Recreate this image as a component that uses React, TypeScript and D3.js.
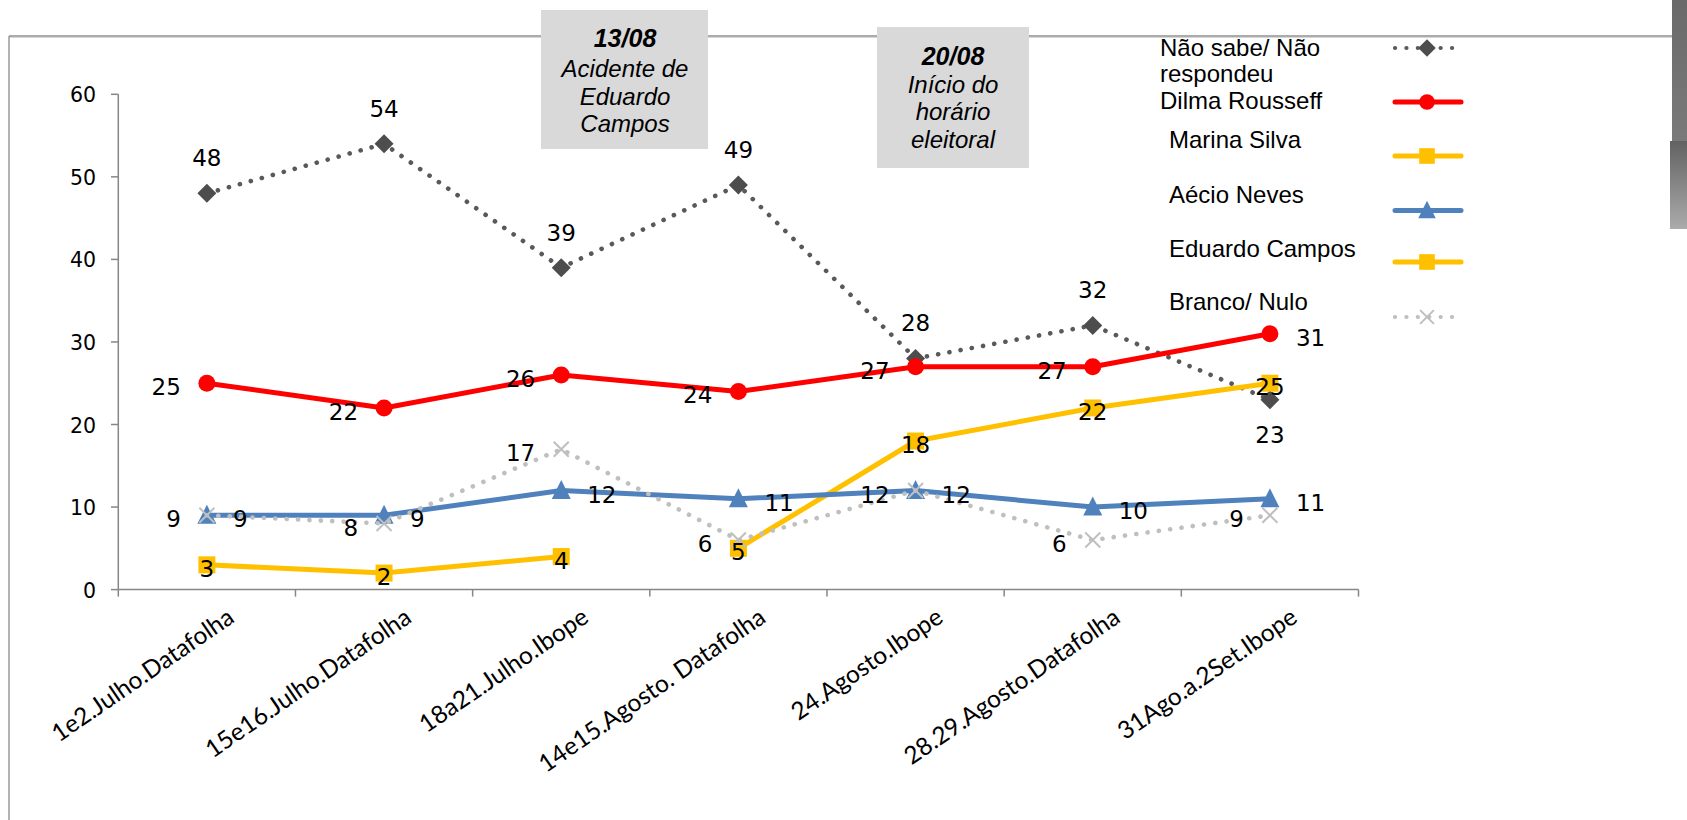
import React from "react";
import * as d3 from "d3";

const categories = [
  "1e2.Julho.Datafolha",
  "15e16.Julho.Datafolha",
  "18a21.Julho.Ibope",
  "14e15.Agosto. Datafolha",
  "24.Agosto.Ibope",
  "28.29.Agosto.Datafolha",
  "31Ago.a.2Set.Ibope",
];
const naoSabe: (number | null)[] = [48, 54, 39, 49, 28, 32, 23];
const dilma: (number | null)[] = [25, 22, 26, 24, 27, 27, 31];
const marina: (number | null)[] = [null, null, null, 5, 18, 22, 25];
const aecio: (number | null)[] = [9, 9, 12, 11, 12, 10, 11];
const eduardo: (number | null)[] = [3, 2, 4, null, null, null, null];
const branco: (number | null)[] = [9, 8, 17, 6, 12, 6, 9];
const yTicks = [0, 10, 20, 30, 40, 50, 60];

const naoSabeLabelPos = ["above", "above", "above", "above", "above", "above", "below"];
const dilmaLabelPos = ["left", "left", "left", "left", "left", "left", "right"];

type Series = {
  name: string[];
  values: (number | null)[];
  color: string;
  markerColor: string;
  dotted: boolean;
  marker: "diamond" | "circle" | "square" | "triangle" | "x";
  labelPos: string[] | string;
};

const series: Series[] = [
  { name: ["Não sabe/ Não", "respondeu"], values: naoSabe, color: "#595959", markerColor: "#4d4d4d", dotted: true, marker: "diamond", labelPos: naoSabeLabelPos },
  { name: ["Dilma Rousseff"], values: dilma, color: "#ff0000", markerColor: "#ff0000", dotted: false, marker: "circle", labelPos: dilmaLabelPos },
  { name: ["Marina Silva"], values: marina, color: "#ffc000", markerColor: "#ffc000", dotted: false, marker: "square", labelPos: "center" },
  { name: ["Aécio Neves"], values: aecio, color: "#4f81bd", markerColor: "#4f81bd", dotted: false, marker: "triangle", labelPos: "right" },
  { name: ["Eduardo Campos"], values: eduardo, color: "#ffc000", markerColor: "#ffc000", dotted: false, marker: "square", labelPos: "center" },
  { name: ["Branco/ Nulo"], values: branco, color: "#bfbfbf", markerColor: "#bfbfbf", dotted: true, marker: "x", labelPos: "left" },
];

const W = 1687;
const H = 820;
const x = d3.scaleBand<string>().domain(categories).range([118.3, 1358.5]);
const y = d3.scaleLinear().domain([0, 60]).range([589.6, 94.3]);
const cx = (i: number) => (x(categories[i]) as number) + x.bandwidth() / 2;

const AXIS = "#868686";
const NUM_FONT = "'DejaVu Sans', Verdana, sans-serif";
const TXT_FONT = "'Liberation Sans', Arial, sans-serif";

function Marker({ kind, color, px, py, s = 1 }: { kind: string; color: string; px: number; py: number; s?: number }) {
  if (kind === "diamond") {
    const r = 9.5 * s;
    return <polygon points={`${px},${py - r} ${px + r},${py} ${px},${py + r} ${px - r},${py}`} fill={color} />;
  }
  if (kind === "circle") return <circle cx={px} cy={py} r={8.5 * s} fill={color} />;
  if (kind === "square") {
    const r = 8.5 * s;
    return <rect x={px - r} y={py - r} width={2 * r} height={2 * r} fill={color} />;
  }
  if (kind === "triangle") {
    const h = 9.5 * s;
    return <polygon points={`${px},${py - h - 1} ${px + h},${py + h - 1} ${px - h},${py + h - 1}`} fill={color} />;
  }
  const r = 7.5 * s;
  return (
    <g stroke={color} strokeWidth={2}>
      <line x1={px - r} y1={py - r} x2={px + r} y2={py + r} />
      <line x1={px - r} y1={py + r} x2={px + r} y2={py - r} />
    </g>
  );
}

export default function App() {
  const lineGen = d3
    .line<number | null>()
    .defined((d) => d !== null)
    .x((_, i) => cx(i))
    .y((d) => y(d as number));

  const legendY = [48, 102, 156, 210.5, 262, 317];
  const legendTextY = [[56, 82], [109], [148], [203], [257], [310]];
  const legendTextX = [1160, 1160, 1169, 1169, 1169, 1169];

  return (
    <svg width={W} height={H} style={{ position: "absolute", left: 0, top: 0, background: "#fff" }}>
      <defs>
        <linearGradient id="bar1" x1="0" y1="0" x2="0" y2="1">
          <stop offset="0" stopColor="#6a6a6a" />
          <stop offset="1" stopColor="#7a7a7a" />
        </linearGradient>
        <linearGradient id="bar2" x1="0" y1="0" x2="0" y2="1">
          <stop offset="0" stopColor="#626262" />
          <stop offset="1" stopColor="#ababab" />
        </linearGradient>
      </defs>
      <rect x={0} y={0} width={W} height={H} fill="#fff" />
      {/* outer frame */}
      <line x1={9} y1={36} x2={1672} y2={36} stroke="#8f8f8f" strokeWidth={1.5} />
      <line x1={9} y1={37.5} x2={1672} y2={37.5} stroke="#d6d6d6" strokeWidth={1} />
      <line x1={9} y1={36} x2={9} y2={H} stroke="#9a9a9a" strokeWidth={1.5} />
      <rect x={1672} y={0} width={15} height={141} fill="url(#bar1)" />
      <rect x={1670} y={141} width={17} height={88} fill="url(#bar2)" />

      {/* annotation boxes */}
      <rect x={541} y={10} width={167} height={139} fill="#d9d9d9" />
      <g fontFamily={TXT_FONT} textAnchor="middle" fill="#000" fontStyle="italic">
        <text x={625} y={46.5} fontSize={25} fontWeight="bold">13/08</text>
        <text x={625} y={77} fontSize={24}>Acidente de</text>
        <text x={625} y={105} fontSize={24}>Eduardo</text>
        <text x={625} y={132} fontSize={24}>Campos</text>
      </g>
      <rect x={877} y={27} width={152} height={141} fill="#d9d9d9" />
      <g fontFamily={TXT_FONT} textAnchor="middle" fill="#000" fontStyle="italic">
        <text x={953} y={65} fontSize={25} fontWeight="bold">20/08</text>
        <text x={953} y={92.5} fontSize={24}>Início do</text>
        <text x={953} y={120} fontSize={24}>horário</text>
        <text x={953} y={148} fontSize={24}>eleitoral</text>
      </g>

      {/* y axis */}
      <line x1={x.range()[0]} y1={y(0)} x2={x.range()[0]} y2={y(60)} stroke={AXIS} strokeWidth={1.5} />
      {yTicks.map((t) => (
        <g key={t}>
          <line x1={111} x2={x.range()[0]} y1={y(t)} y2={y(t)} stroke={AXIS} strokeWidth={1.5} />
          <text x={96} y={y(t) + 8} textAnchor="end" fontFamily={NUM_FONT} fontSize={20.5} fill="#000">{t}</text>
        </g>
      ))}
      {/* x axis */}
      <line x1={x.range()[0]} y1={y(0)} x2={x.range()[1]} y2={y(0)} stroke={AXIS} strokeWidth={1.5} />
      {[...categories.map((c) => x(c) as number), x.range()[1]].map((tx, i) => (
        <line key={i} x1={tx} x2={tx} y1={y(0)} y2={y(0) + 7} stroke={AXIS} strokeWidth={1.5} />
      ))}
      {categories.map((c, i) => (
        <text
          key={c}
          transform={`translate(${cx(i) + 29},${621}) rotate(-34.5)`}
          textAnchor="end"
          fontFamily="Lato, 'Open Sans', sans-serif"
          fontSize={24.5}
          fill="#000"
        >
          {c}
        </text>
      ))}

      {/* series */}
      {series.map((s, si) => (
        <g key={si}>
          <path
            d={lineGen(s.values) || ""}
            fill="none"
            stroke={s.color}
            strokeWidth={s.dotted ? 4.6 : 5}
            strokeLinecap="round"
            strokeLinejoin="round"
            strokeDasharray={s.dotted ? "0.1 11.3" : undefined}
          />
          {s.values.map((v, i) =>
            v === null ? null : <Marker key={i} kind={s.marker} color={s.markerColor} px={cx(i)} py={y(v)} />
          )}
        </g>
      ))}

      {/* data labels */}
      <g fontFamily={NUM_FONT} fontSize={23} fill="#000">
        {series.map((s, si) =>
          s.values.map((v, i) => {
            if (v === null) return null;
            const pos = Array.isArray(s.labelPos) ? s.labelPos[i] : s.labelPos;
            const px = cx(i);
            const py = y(v);
            let tx = px, ty = py + 12, anchor = "middle";
            if (pos === "left") { tx = px - 26; anchor = "end"; }
            else if (pos === "right") { tx = px + 26; anchor = "start"; }
            else if (pos === "above") { ty = py - 27; }
            else if (pos === "below") { ty = py + 43; }
            return (
              <text key={`${si}-${i}`} x={tx} y={ty} textAnchor={anchor}>{v}</text>
            );
          })
        )}
      </g>

      {/* legend */}
      {series.map((s, si) => (
        <g key={si}>
          {s.name.map((ln, li) => (
            <text key={li} x={legendTextX[si]} y={legendTextY[si][li]} fontFamily={TXT_FONT} fontSize={24} fill="#000">{ln}</text>
          ))}
          <line
            x1={1395}
            x2={1461}
            y1={legendY[si]}
            y2={legendY[si]}
            stroke={s.color}
            strokeWidth={s.dotted ? 4.2 : 5}
            strokeLinecap="round"
            strokeDasharray={s.dotted ? "0.1 11.3" : undefined}
          />
          <Marker kind={s.marker} color={s.markerColor} px={1427} py={legendY[si]} s={0.92} />
        </g>
      ))}
    </svg>
  );
}
